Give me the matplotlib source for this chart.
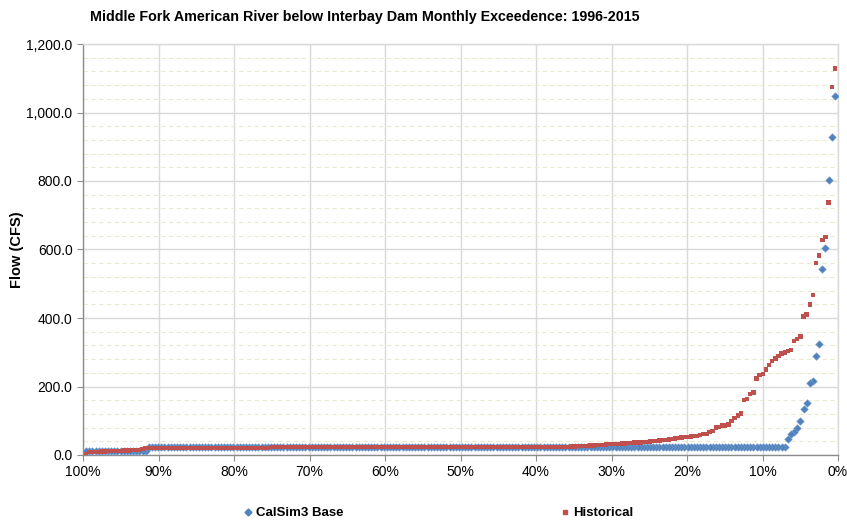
import numpy as np
import matplotlib
matplotlib.use("Agg")
import matplotlib.pyplot as plt
from matplotlib.ticker import MultipleLocator, FuncFormatter

plt.rcParams['font.family'] = ['Liberation Sans', 'DejaVu Sans']

title = "Middle Fork American River below Interbay Dam Monthly Exceedence: 1996-2015"
y_label = "Flow (CFS)"
series_names = ["CalSim3 Base", "Historical"]

# Monthly flows (cfs), sorted from largest to smallest
calsim_peak = [1048, 929, 804, 603, 544, 325, 290, 216, 210, 151, 134, 99, 78, 68, 60, 46]
calsim_levels = [24.0, 12.5]
calsim_counts = [204, 20]

hist_peak = [1128, 1075, 737, 636, 628, 583, 561, 468, 439, 410, 404, 346, 339, 333,
             307, 303, 299, 296, 289, 282, 275, 262, 250, 237, 233, 223, 182, 178,
             163, 160, 121, 115, 108, 99, 89, 86, 86, 81, 80, 70, 67, 61, 61, 58]
hist_shoulder = [56, 55, 54, 53, 52, 51, 49, 48, 46, 45, 44, 43, 42, 41, 40, 39, 38,
                 38, 37, 37, 36, 35, 35, 34, 34, 33, 33, 32, 32, 31, 30, 29, 29, 28,
                 28, 27, 27, 26, 26, 25, 25]
hist_levels = [23.0, 20.0]
hist_counts = [96, 40]
hist_low = [17, 15, 14, 14, 13, 13, 13, 12, 12, 12, 11, 11, 10, 10, 9, 9, 8, 8, 1]

x_ticks = [100, 90, 80, 70, 60, 50, 40, 30, 20, 10, 0]


def expand(levels, counts):
    out = []
    for v, c in zip(levels, counts):
        out += [v] * c
    return out


calsim = np.array(calsim_peak + expand(calsim_levels, calsim_counts), dtype=float)
hist = np.array(hist_peak + hist_shoulder + expand(hist_levels, hist_counts) + hist_low,
                dtype=float)


def exceedance(values):
    n = len(values)
    return np.arange(1, n + 1) / (n + 1) * 100.0


fig = plt.figure(figsize=(8.47, 5.23), dpi=100)
ax = fig.add_axes([83 / 847, 1 - 455 / 523, (838 - 83) / 847, (455 - 44) / 523])

blue = "#4F81BD"
red = "#C0504D"

ax.scatter(exceedance(calsim), calsim, marker="D", s=15, color=blue,
           edgecolors="#7EA2D0", linewidths=0.4, zorder=3, label=series_names[0])
ax.scatter(exceedance(hist), hist, marker="s", s=10, color=red,
           edgecolors="none", zorder=4, label=series_names[1])

ax.set_xlim(100, 0)
ax.set_ylim(0, 1200)
ax.set_xticks(x_ticks)
ax.xaxis.set_major_formatter(FuncFormatter(lambda v, p: f"{v:.0f}%"))
ax.yaxis.set_major_locator(MultipleLocator(200))
ax.yaxis.set_minor_locator(MultipleLocator(40))
ax.yaxis.set_major_formatter(FuncFormatter(lambda v, p: f"{v:,.1f}"))

ax.grid(True, which="major", axis="both", color="#D9D9D9", linewidth=1.0, zorder=0)
ax.grid(True, which="minor", axis="y", color="#E9E9CF", linewidth=0.8,
        linestyle=(0, (4, 3)), zorder=0)
ax.set_axisbelow(True)

for side in ["top", "right"]:
    ax.spines[side].set_color("#D9D9D9")
    ax.spines[side].set_linewidth(1.0)
for side in ["left", "bottom"]:
    ax.spines[side].set_color("#8C8C8C")
    ax.spines[side].set_linewidth(1.0)

ax.tick_params(axis="both", which="major", direction="out", length=4, color="#8C8C8C",
               labelsize=10, labelcolor="#000000")
ax.tick_params(axis="y", which="minor", length=0)
ax.tick_params(axis="x", pad=3)

fig.text(17 / 847, 1 - 250 / 523, y_label, fontsize=10.5, fontweight="bold",
         rotation=90, ha="center", va="center")
fig.text(90 / 847, 1 - 17 / 523, title, fontsize=10.3, fontweight="bold",
         ha="left", va="center")

handles = [
    plt.Line2D([], [], linestyle="none", marker="D", markersize=3.5, color=blue),
    plt.Line2D([], [], linestyle="none", marker="s", markersize=3, color=red),
]
fig.legend(handles, series_names, loc="center", bbox_to_anchor=(439 / 847, 1 - 513 / 523),
           ncol=2, frameon=False, handlelength=0.6, handletextpad=0.3,
           columnspacing=16.5, prop={"weight": "bold", "size": 9.5})

fig.savefig("out.png", dpi=100)
